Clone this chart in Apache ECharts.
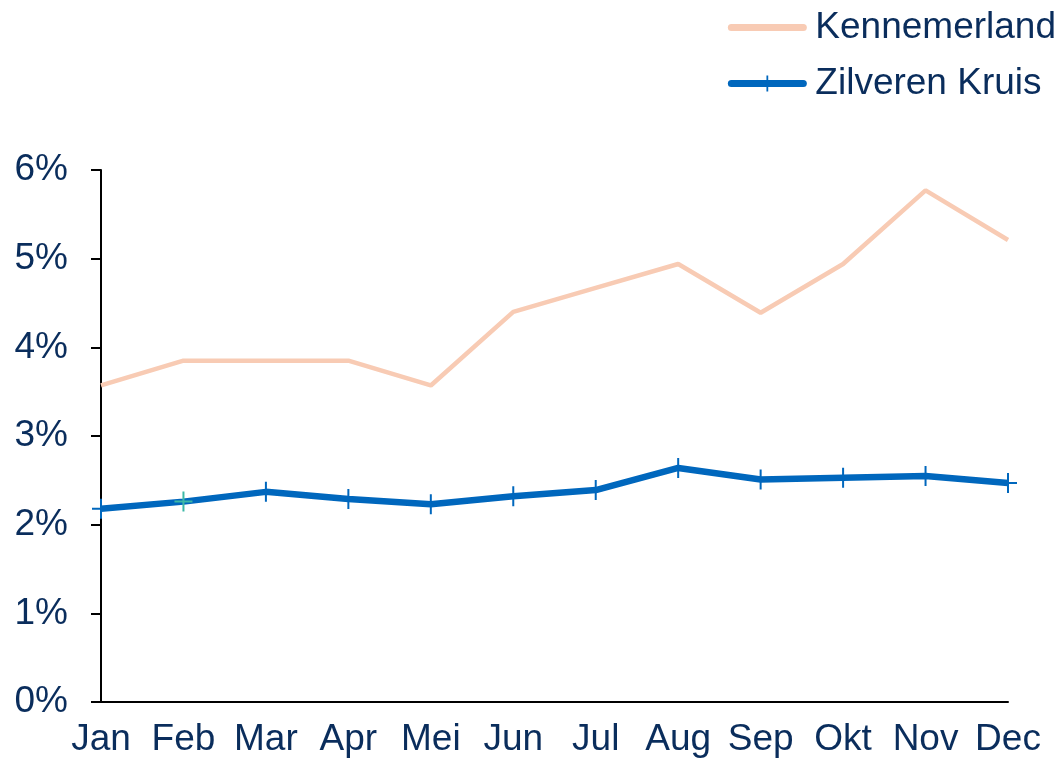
<!DOCTYPE html>
<html>
<head>
<meta charset="utf-8">
<script src="https://cdn.jsdelivr.net/npm/echarts@6/dist/echarts.min.js"></script>
<style>
  html, body { margin: 0; padding: 0; background: #fff; }
  #chart { width: 1063px; height: 758px; }
</style>
</head>
<body>
<div id="chart"></div>
<script>
const months = ['Jan', 'Feb', 'Mar', 'Apr', 'Mei', 'Jun', 'Jul', 'Aug', 'Sep', 'Okt', 'Nov', 'Dec'];
const kennemerland = [3.57, 3.85, 3.85, 3.85, 3.57, 4.40, 4.67, 4.94, 4.39, 4.94, 5.77, 5.21];
const zilverenKruis = [2.18, 2.26, 2.37, 2.29, 2.23, 2.32, 2.39, 2.64, 2.51, 2.53, 2.55, 2.47];
const yTicks = [0, 1, 2, 3, 4, 5, 6];

const textColor = '#0a2d5c';
const font = 'Liberation Sans, Arial, sans-serif';
const plus = 'path://M-1,-10 L1,-10 L1,-1 L9,-1 L9,1 L1,1 L1,10 L-1,10 L-1,1 L-9,1 L-9,-1 L-1,-1 Z';
const peach = '#f8cbb4';
const blue = '#0067bd';

const chart = echarts.init(document.getElementById('chart'));
chart.setOption({
  animation: false,
  textStyle: { fontFamily: font },
  grid: { left: 101, right: 55, top: 170, bottom: 56 },
  legend: {
    orient: 'vertical',
    right: 2,
    top: 4,
    itemWidth: 72,
    itemHeight: 20,
    itemGap: 19,
    textStyle: { color: textColor, fontSize: 37, fontFamily: font, padding: [0, 0, 0, 7] },
    data: [
      { name: 'Kennemerland', itemStyle: { opacity: 0 }, lineStyle: { width: 7, color: peach, cap: 'round' } },
      { name: 'Zilveren Kruis', lineStyle: { width: 7, color: blue, cap: 'round' } }
    ]
  },
  xAxis: {
    type: 'category',
    data: months,
    boundaryGap: false,
    axisLine: { lineStyle: { color: '#000', width: 2 } },
    axisTick: { show: false },
    axisLabel: { color: textColor, fontSize: 37, margin: 19, interval: 0 }
  },
  yAxis: {
    type: 'value',
    min: yTicks[0],
    max: yTicks[yTicks.length - 1],
    interval: 1,
    axisLine: { show: true, lineStyle: { color: '#000', width: 2 } },
    axisTick: { show: true, length: 10, lineStyle: { color: '#000', width: 2 } },
    splitLine: { show: false },
    axisLabel: { color: textColor, fontSize: 37, margin: 33, formatter: '{value}%' }
  },
  series: [
    {
      name: 'Kennemerland',
      type: 'line',
      data: kennemerland,
      symbol: 'none',
      lineStyle: { color: peach, width: 4.5 },
      itemStyle: { color: peach }
    },
    {
      name: 'Zilveren Kruis',
      type: 'line',
      data: zilverenKruis.map((v, i) => i === 1 ? { value: v, itemStyle: { color: '#3db8a6' } } : v),
      symbol: plus,
      symbolSize: [18, 20],
      showSymbol: true,
      lineStyle: { color: blue, width: 6.5 },
      itemStyle: { color: blue }
    }
  ]
});
</script>
</body>
</html>
